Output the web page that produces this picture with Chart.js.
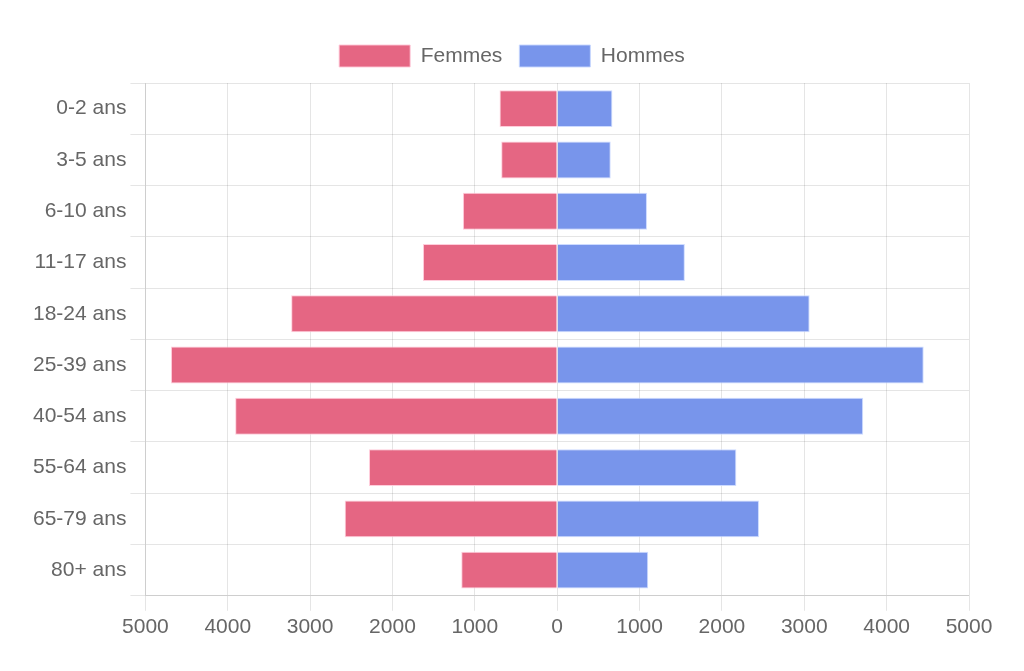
<!DOCTYPE html>
<html>
<head>
<meta charset="utf-8">
<script src="https://cdn.jsdelivr.net/npm/chart.js@4"></script>
<style>
  html, body { margin: 0; padding: 0; background: #fff; }
  #wrap { width: 1024px; height: 671px; }
</style>
</head>
<body>
<div id="wrap"><canvas id="pyramid-chart"></canvas></div>
<script>
var ageGroups = ['0-2 ans', '3-5 ans', '6-10 ans', '11-17 ans', '18-24 ans', '25-39 ans', '40-54 ans', '55-64 ans', '65-79 ans', '80+ ans'];
var femmes = [700, 680, 1145, 1630, 3230, 4690, 3910, 2285, 2580, 1165];
var hommes = [670, 650, 1090, 1550, 3065, 4450, 3715, 2175, 2450, 1105];
var xTicks = [-5000, -4000, -3000, -2000, -1000, 0, 1000, 2000, 3000, 4000, 5000];

Chart.defaults.font.family = '"Liberation Sans", Arial, sans-serif';
Chart.defaults.color = '#666';

// a bit more room under the legend, and center it on the whole canvas
var legendTweak = {
  id: 'legendTweak',
  beforeInit: function (chart) {
    var fit = chart.legend.fit;
    chart.legend.fit = function () {
      fit.bind(chart.legend)();
      this.height += 6;
    };
  },
  afterLayout: function (chart) {
    var lg = chart.legend;
    var shift = (chart.width - lg.left - lg.right) / 2;
    lg.left += shift;
    lg.right += shift;
  }
};

var ctx = document.getElementById('pyramid-chart').getContext('2d');
var myChart = new Chart(ctx, {
  type: 'bar',
  data: {
    labels: ageGroups,
    datasets: [{
      label: 'Femmes',
      data: femmes.map(function (v) { return -v; }),
      backgroundColor: 'rgb(229, 102, 131)',
      borderColor: 'rgba(255, 200, 215, 0.9)',
      borderWidth: 1
    }, {
      label: 'Hommes',
      data: hommes,
      backgroundColor: 'rgb(120, 149, 235)',
      borderColor: 'rgba(200, 215, 255, 0.9)',
      borderWidth: 1
    }]
  },
  plugins: [legendTweak],
  options: {
    indexAxis: 'y',
    responsive: true,
    maintainAspectRatio: false,
    animation: false,
    layout: { padding: { left: 29, right: 55, top: 28, bottom: 27 } },
    plugins: {
      legend: {
        position: 'top',
        labels: { font: { size: 21 }, boxWidth: 71, boxHeight: 22, padding: 17 }
      },
      tooltip: { enabled: false }
    },
    scales: {
      x: {
        stacked: true,
        min: -5000,
        max: 5000,
        afterBuildTicks: function (axis) {
          axis.ticks = xTicks.map(function (v) { return { value: v }; });
        },
        ticks: {
          font: { size: 21 },
          padding: 4,
          callback: function (v) { return Math.abs(v); }
        },
        grid: { color: 'rgba(0,0,0,0.1)', tickLength: 15 }
      },
      y: {
        stacked: true,
        ticks: { font: { size: 21 }, padding: 4 },
        grid: { color: 'rgba(0,0,0,0.1)', tickLength: 15 }
      }
    }
  }
});
</script>
</body>
</html>
